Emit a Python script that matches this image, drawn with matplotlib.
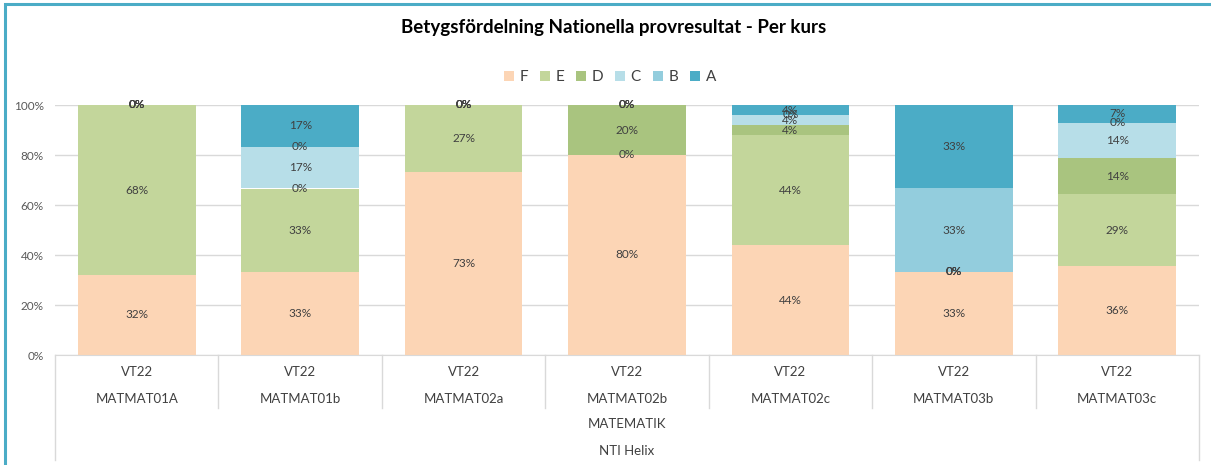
import numpy as np
import matplotlib.pyplot as plt
from matplotlib.patches import Patch, Rectangle
from matplotlib.transforms import blended_transform_factory

# data (percent per grade, per course)
courses = ['MATMAT01A', 'MATMAT01b', 'MATMAT02a', 'MATMAT02b', 'MATMAT02c', 'MATMAT03b', 'MATMAT03c']
term = 'VT22'
subject = 'MATEMATIK'
school = 'NTI Helix'
grades = ['F', 'E', 'D', 'C', 'B', 'A']
F = [32.0, 33.3, 73.3, 80.0, 44.0, 33.3, 35.7]
E = [68.0, 33.3, 26.7, 0.0, 44.0, 0.0, 28.6]
D = [0.0, 0.0, 0.0, 20.0, 4.0, 0.0, 14.3]
C = [0.0, 16.7, 0.0, 0.0, 4.0, 0.0, 14.3]
B = [0.0, 0.0, 0.0, 0.0, 0.0, 33.3, 0.0]
A = [0.0, 16.7, 0.0, 0.0, 4.0, 33.3, 7.1]
colors = ['#FCD5B5', '#C3D69B', '#A9C47F', '#B7DEE8', '#93CDDD', '#4BACC6']

plt.rcParams['font.family'] = ['Lato', 'DejaVu Sans']

W, H = 1211, 465
fig = plt.figure(figsize=(W / 100, H / 100), dpi=100)
fig.patch.set_facecolor('white')

# plot area in pixels
x0, x1, ytop, ybot = 55, 1199, 105, 355
ax = fig.add_axes([x0 / W, 1 - ybot / H, (x1 - x0) / W, (ybot - ytop) / H])

series = [F, E, D, C, B, A]
x = np.arange(len(courses))
bottom = np.zeros(len(courses))
for name, vals, col in zip(grades, series, colors):
    vals = np.array(vals)
    ax.bar(x, vals, 0.72, bottom=bottom, color=col, label=name, zorder=2)
    for xi, b, v in zip(x, bottom, vals):
        ax.text(xi, b + v / 2, f'{v:.0f}%', ha='center', va='center',
                fontsize=8.5, color='#404040', zorder=3)
    bottom += vals

ax.set_xlim(-0.5, len(courses) - 0.5)
ax.set_ylim(0, 100)
ax.set_yticks(np.arange(0, 101, 20))
ax.set_yticklabels([f'{t}%' for t in range(0, 101, 20)], color='#595959', fontsize=8.5)
ax.tick_params(axis='y', length=0, pad=8)
ax.tick_params(axis='x', length=0, labelbottom=False)
ax.grid(axis='y', color='#D9D9D9', linewidth=1, zorder=0)
for s in ['top', 'right', 'left']:
    ax.spines[s].set_visible(False)
ax.spines['bottom'].set_color('#D9D9D9')

# multi level category axis
tr = blended_transform_factory(ax.transData, ax.transAxes)
ph = ybot - ytop


def ay(py):
    return (ybot - py) / ph


for xi, c in zip(x, courses):
    ax.text(xi, ay(372), term, transform=tr, ha='center', va='center', fontsize=9.5, color='#404040')
    ax.text(xi, ay(399), c, transform=tr, ha='center', va='center', fontsize=9.5, color='#404040')
for xb in np.arange(0.5, len(courses) - 1, 1.0):
    ax.plot([xb, xb], [ay(355), ay(408)], transform=tr, color='#D9D9D9', lw=1, clip_on=False)
for xb in [-0.5, len(courses) - 0.5]:
    ax.plot([xb, xb], [ay(355), ay(460)], transform=tr, color='#D9D9D9', lw=1, clip_on=False)
ax.text(3, ay(424), subject, transform=tr, ha='center', va='center', fontsize=9.5, color='#404040')
ax.text(3, ay(451), school, transform=tr, ha='center', va='center', fontsize=9.5, color='#404040')

# title and legend
fig.text(614 / W, 1 - 27 / H, 'Betygsfördelning Nationella provresultat - Per kurs',
         ha='center', va='center', fontsize=13.5, fontweight='bold', color='black')
handles = [Patch(facecolor=c, edgecolor='none', label=g) for g, c in zip(grades, colors)]
fig.legend(handles=handles, loc='center', bbox_to_anchor=(610 / W, 1 - 77 / H), ncol=6,
           frameon=False, fontsize=11, handlelength=0.65, handleheight=0.65,
           handletextpad=0.35, columnspacing=0.8, labelcolor='#404040')

# outer frame
fig.patches.append(Rectangle((4.5 / W, -0.1), 1.2, 1 - 4.5 / H + 0.1, transform=fig.transFigure,
                             fill=False, edgecolor='#4BACC6', linewidth=2.2))

fig.savefig('out.png', dpi=100)
